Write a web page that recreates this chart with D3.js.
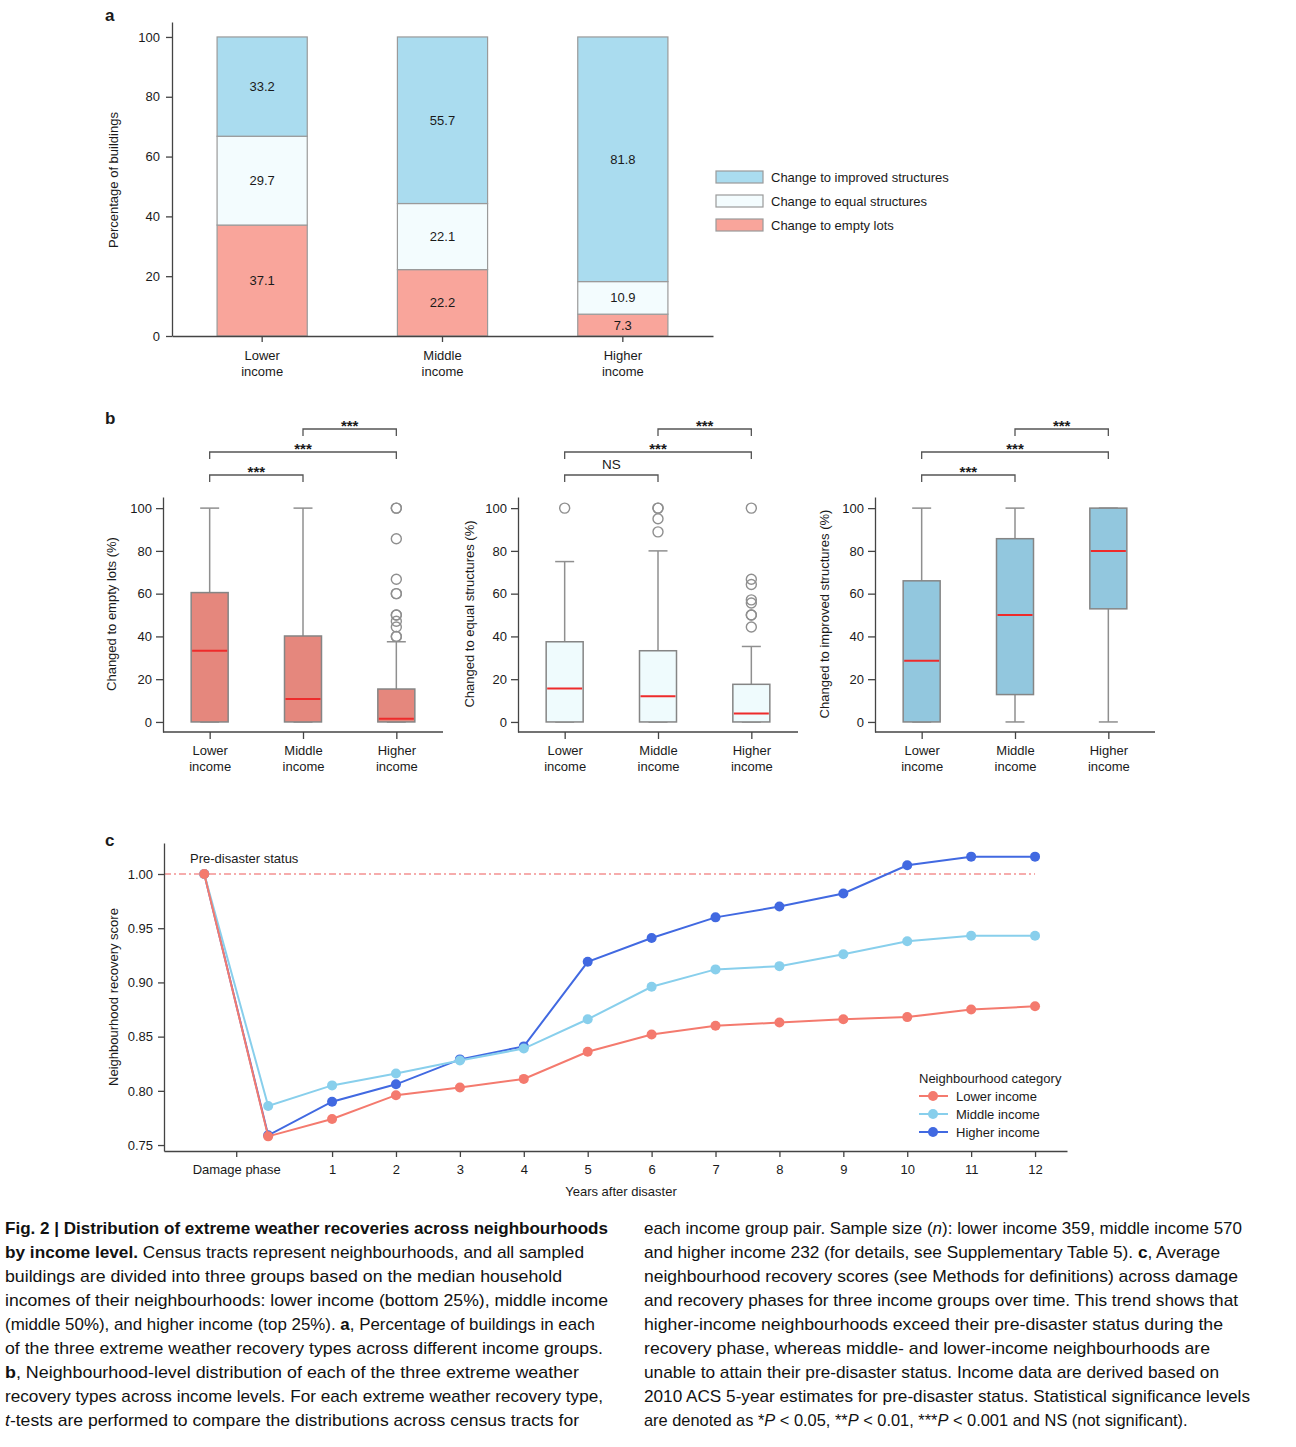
<!DOCTYPE html>
<html><head><meta charset="utf-8">
<script src="https://cdn.jsdelivr.net/npm/d3@7"></script>
<style>
body{margin:0;background:#fff}
svg{display:block}
text{font-family:"Liberation Sans",Arial,Helvetica,sans-serif;fill:#1a1a1a}
.axis path,.axis line{stroke:#444;stroke-width:1.3}
.axis text{font-size:13px;fill:#1a1a1a;font-family:"Liberation Sans",Arial,sans-serif}
.cap{font-family:"Liberation Sans",Arial,sans-serif;font-size:17px;fill:#111}
</style>
</head><body>
<svg id="chart" width="1296" height="1447"></svg>
<script>
// ---------- Panel a data ----------
const incomeGroups = ["Lower income", "Middle income", "Higher income"];
const recoveryTypes = ["Change to empty lots", "Change to equal structures", "Change to improved structures"];
const emptyLotsPct = [37.1, 22.2, 7.3];
const equalStructuresPct = [29.7, 22.1, 10.9];
const improvedStructuresPct = [33.2, 55.7, 81.8];
const percentTicks = [0, 20, 40, 60, 80, 100];

// ---------- Panel b data: [lower whisker, q1, median, q3, upper whisker] ----------
const emptyLotsBox = [[0, 0, 33.3, 60.5, 100], [0, 0, 10.7, 40.2, 100], [0, 0, 1.5, 15.4, 37.5]];
const emptyLotsFliers = [[], [], [100, 100, 85.7, 66.7, 60, 60, 50, 50, 47.1, 44.4, 40, 40]];
const equalBox = [[0, 0, 15.6, 37.5, 75], [0, 0, 12, 33.3, 80], [0, 0, 4, 17.6, 35.3]];
const equalFliers = [[100], [100, 100, 95, 88.9], [100, 66.7, 64.3, 57.1, 55.6, 50, 50, 44.4]];
const improvedBox = [[0, 0, 28.6, 66, 100], [0, 12.8, 50, 85.7, 100], [0, 52.9, 80, 100, 100]];
const improvedFliers = [[], [], []];
// significance for pairs Lower–Middle, Lower–Higher, Middle–Higher
const emptyLotsSig = ["***", "***", "***"];
const equalSig = ["NS", "***", "***"];
const improvedSig = ["***", "***", "***"];
const boxYLabels = ["Changed to empty lots (%)", "Changed to equal structures (%)", "Changed to improved structures (%)"];

// ---------- Panel c data ----------
const phases = [-1, 0, 1, 2, 3, 4, 5, 6, 7, 8, 9, 10, 11, 12];
const lowerScore  = [1.000, 0.758, 0.774, 0.796, 0.803, 0.811, 0.836, 0.852, 0.860, 0.863, 0.866, 0.868, 0.875, 0.878];
const middleScore = [1.000, 0.786, 0.805, 0.816, 0.828, 0.839, 0.866, 0.896, 0.912, 0.915, 0.926, 0.938, 0.943, 0.943];
const higherScore = [1.000, 0.759, 0.790, 0.806, 0.829, 0.841, 0.919, 0.941, 0.960, 0.970, 0.982, 1.008, 1.016, 1.016];
const scoreTicks = [0.75, 0.80, 0.85, 0.90, 0.95, 1.00];
const phaseTicks = [-0.5, 1, 2, 3, 4, 5, 6, 7, 8, 9, 10, 11, 12];
const phaseTickLabels = ["Damage phase", "1", "2", "3", "4", "5", "6", "7", "8", "9", "10", "11", "12"];
const seriesNames = ["Lower income", "Middle income", "Higher income"];

// ---------- Caption ----------
const captionLeft = [
  [["Fig. 2 | Distribution of extreme weather recoveries across neighbourhoods", "b"]],
  [["by income level.", "b"], [" Census tracts represent neighbourhoods, and all sampled", ""]],
  [["buildings are divided into three groups based on the median household", ""]],
  [["incomes of their neighbourhoods: lower income (bottom 25%), middle income", ""]],
  [["(middle 50%), and higher income (top 25%). ", ""], ["a", "b"], [", Percentage of buildings in each", ""]],
  [["of the three extreme weather recovery types across different income groups.", ""]],
  [["b", "b"], [", Neighbourhood-level distribution of each of the three extreme weather", ""]],
  [["recovery types across income levels. For each extreme weather recovery type,", ""]],
  [["t", "i"], ["-tests are performed to compare the distributions across census tracts for", ""]]
];
const captionLeftEnds = [608, 584, 562, 608, 595, 603, 579, 603, 579];
const captionRight = [
  [["each income group pair. Sample size (", ""], ["n", "i"], ["): lower income 359, middle income 570", ""]],
  [["and higher income 232 (for details, see Supplementary Table 5). ", ""], ["c", "b"], [", Average", ""]],
  [["neighbourhood recovery scores (see Methods for definitions) across damage", ""]],
  [["and recovery phases for three income groups over time. This trend shows that", ""]],
  [["higher-income neighbourhoods exceed their pre-disaster status during the", ""]],
  [["recovery phase, whereas middle- and lower-income neighbourhoods are", ""]],
  [["unable to attain their pre-disaster status. Income data are derived based on", ""]],
  [["2010 ACS 5-year estimates for pre-disaster status. Statistical significance levels", ""]],
  [["are denoted as *", ""], ["P", "i"], [" < 0.05, **", ""], ["P", "i"], [" < 0.01, ***", ""], ["P", "i"], [" < 0.001 and NS (not significant).", ""]]
];
const captionRightEnds = [1242, 1220, 1238, 1238, 1223, 1210, 1219, 1250, null];

const svg = d3.select("#chart");

function twoLine(sel) {
  sel.each(function(d) {
    const t = d3.select(this); const parts = t.text().split(" ");
    t.text(null);
    t.append("tspan").attr("x", 0).attr("dy", "0.8em").text(parts[0]);
    t.append("tspan").attr("x", 0).attr("dy", "1.23em").text(parts.slice(1).join(" "));
  });
}

// ================= Panel a =================
(function() {
  const g = svg.append("g");
  const x = d3.scaleBand().domain(incomeGroups).range([172, 713]).paddingInner(0.5).paddingOuter(0.25);
  const y = d3.scaleLinear().domain([0, 105]).range([336, 22]);
  const colors = {"Change to empty lots": "#f9a59b", "Change to equal structures": "#f3fcfe", "Change to improved structures": "#aadcef"};
  const rows = incomeGroups.map((c, i) => ({group: c, "Change to empty lots": emptyLotsPct[i], "Change to equal structures": equalStructuresPct[i], "Change to improved structures": improvedStructuresPct[i]}));
  const stack = d3.stack().keys(recoveryTypes)(rows);
  stack.forEach(layer => {
    g.selectAll(null).data(layer).enter().append("rect")
      .attr("x", d => x(d.data.group)).attr("width", x.bandwidth())
      .attr("y", d => y(d[1])).attr("height", d => y(d[0]) - y(d[1]))
      .attr("fill", colors[layer.key]).attr("stroke", "#9a9a9a").attr("stroke-width", 1.2);
    g.selectAll(null).data(layer).enter().append("text")
      .attr("x", d => x(d.data.group) + x.bandwidth() / 2).attr("y", d => y((d[0] + d[1]) / 2))
      .attr("text-anchor", "middle").attr("dy", "0.35em").attr("font-size", 13)
      .text(d => d.data[layer.key].toFixed(1));
  });
  g.append("g").attr("class", "axis").attr("transform", "translate(172,0)")
    .call(d3.axisLeft(y).tickValues(percentTicks).tickSize(6).tickSizeOuter(0).tickPadding(6));
  const xa = g.append("g").attr("class", "axis").attr("transform", "translate(0,336)")
    .call(d3.axisBottom(x).tickSize(6).tickSizeOuter(0).tickPadding(8));
  xa.selectAll(".tick text").call(twoLine);
  g.append("text").attr("transform", "translate(113,180) rotate(-90)").attr("text-anchor", "middle")
    .attr("dy", "0.35em").attr("font-size", 13).text("Percentage of buildings");
  g.append("text").attr("x", 105).attr("y", 21).attr("font-size", 17).attr("font-weight", "bold").text("a");
  // legend
  const leg = g.append("g");
  const legOrder = ["Change to improved structures", "Change to equal structures", "Change to empty lots"];
  const legY = d3.scalePoint().domain(legOrder).range([177, 225]);
  leg.selectAll("rect").data(legOrder).enter().append("rect")
    .attr("x", 716).attr("width", 47).attr("y", d => legY(d) - 6).attr("height", 12)
    .attr("fill", d => colors[d]).attr("stroke", "#9a9a9a").attr("stroke-width", 1.2);
  leg.selectAll("text").data(legOrder).enter().append("text")
    .attr("x", 771).attr("y", d => legY(d)).attr("dy", "0.35em").attr("font-size", 13).text(d => d);
})();

// ================= Panel b =================
function drawBoxPanel(x0, stats, fliers, sig, fill, label, labelX) {
  const g = svg.append("g");
  const x = d3.scalePoint().domain(incomeGroups).range([x0, x0 + 280]).padding(0.5);
  const y = d3.scaleLinear().domain([-4.7, 105.2]).range([732, 497]);
  const bw = 37, cw = 19;
  incomeGroups.forEach((grp, i) => {
    const [lo, q1, med, q3, hi] = stats[i];
    const cx = x(grp);
    const ln = (x1, y1, x2, y2, col, w) => g.append("line").attr("x1", x1).attr("y1", y1).attr("x2", x2).attr("y2", y2)
      .attr("stroke", col).attr("stroke-width", w);
    ln(cx, y(q3), cx, y(hi), "#8f8f8f", 1.5);
    ln(cx, y(q1), cx, y(lo), "#8f8f8f", 1.5);
    ln(cx - cw / 2, y(hi), cx + cw / 2, y(hi), "#8f8f8f", 1.5);
    ln(cx - cw / 2, y(lo), cx + cw / 2, y(lo), "#8f8f8f", 1.5);
    g.append("rect").attr("x", cx - bw / 2).attr("width", bw).attr("y", y(q3)).attr("height", Math.max(0, y(q1) - y(q3)))
      .attr("fill", fill).attr("stroke", "#858585").attr("stroke-width", 1.5);
    ln(cx - bw / 2 + 1, y(med), cx + bw / 2 - 1, y(med), "#ee2b2b", 2);
    g.selectAll(null).data(fliers[i]).enter().append("circle")
      .attr("cx", cx).attr("cy", d => y(d)).attr("r", 5)
      .attr("fill", "none").attr("stroke", "#8f8f8f").attr("stroke-width", 1.4);
  });
  g.append("g").attr("class", "axis").attr("transform", `translate(${x0},0)`)
    .call(d3.axisLeft(y).tickValues(percentTicks).tickSize(7).tickSizeOuter(0).tickPadding(4));
  const xa = g.append("g").attr("class", "axis").attr("transform", "translate(0,732)")
    .call(d3.axisBottom(x).tickSize(7).tickSizeOuter(0).tickPadding(6));
  xa.select(".domain").attr("d", `M${x0},0H${x0 + 280}`);
  xa.selectAll(".tick text").call(twoLine);
  g.append("text").attr("transform", `translate(${labelX},614) rotate(-90)`).attr("text-anchor", "middle")
    .attr("dy", "0.35em").attr("font-size", 13).text(label);
  // significance brackets
  const pairs = [[0, 1, 475], [0, 2, 452], [1, 2, 429]];
  pairs.forEach(([a, b, by], k) => {
    const xa1 = x(incomeGroups[a]), xb1 = x(incomeGroups[b]);
    g.append("path").attr("d", `M${xa1},${by + 7}V${by}H${xb1}V${by + 7}`)
      .attr("fill", "none").attr("stroke", "#555").attr("stroke-width", 1.3);
    const isNS = sig[k] === "NS";
    g.append("text").attr("x", (xa1 + xb1) / 2).attr("y", isNS ? by - 6 : by + 2)
      .attr("text-anchor", "middle").attr("font-size", isNS ? 13.5 : 15)
      .attr("font-weight", isNS ? "normal" : "bold").text(sig[k]);
  });
}
drawBoxPanel(163, emptyLotsBox, emptyLotsFliers, emptyLotsSig, "#e5877d", boxYLabels[0], 111);
drawBoxPanel(518, equalBox, equalFliers, equalSig, "#effbfd", boxYLabels[1], 469);
drawBoxPanel(875, improvedBox, improvedFliers, improvedSig, "#92c7de", boxYLabels[2], 824);
svg.append("text").attr("x", 105).attr("y", 424).attr("font-size", 17).attr("font-weight", "bold").text("b");

// ================= Panel c =================
(function() {
  const g = svg.append("g");
  const x = d3.scaleLinear().domain([-1.63, 12.5]).range([164, 1067]);
  const y = d3.scaleLinear().domain([0.7445, 1.0286]).range([1151, 843]);
  const colors = ["#f47a6e", "#88cfec", "#4169e1"];
  const series = [lowerScore, middleScore, higherScore];
  g.append("line").attr("x1", x(-1.63)).attr("x2", x(12)).attr("y1", y(1)).attr("y2", y(1))
    .attr("stroke", "#ee5a5a").attr("stroke-width", 1.1).attr("stroke-dasharray", "7,3,2,3");
  g.append("text").attr("x", 190).attr("y", 858).attr("dy", "0.35em").attr("font-size", 13).text("Pre-disaster status");
  const line = d3.line().x((d, i) => x(phases[i])).y(d => y(d));
  [2, 1, 0].forEach(s => {
    g.append("path").datum(series[s]).attr("d", line).attr("fill", "none").attr("stroke", colors[s]).attr("stroke-width", 2);
    g.selectAll(null).data(series[s]).enter().append("circle")
      .attr("cx", (d, i) => x(phases[i])).attr("cy", d => y(d)).attr("r", 5).attr("fill", colors[s]);
  });
  g.append("g").attr("class", "axis").attr("transform", "translate(164,0)")
    .call(d3.axisLeft(y).tickValues(scoreTicks).tickFormat(d3.format(".2f")).tickSize(6).tickSizeOuter(0).tickPadding(5));
  g.append("g").attr("class", "axis").attr("transform", "translate(0,1151)")
    .call(d3.axisBottom(x).tickValues(phaseTicks).tickFormat((d, i) => phaseTickLabels[i]).tickSize(6).tickSizeOuter(0).tickPadding(8));
  g.append("text").attr("x", 621).attr("y", 1191).attr("dy", "0.35em").attr("text-anchor", "middle").attr("font-size", 13).text("Years after disaster");
  g.append("text").attr("transform", "translate(113,997) rotate(-90)").attr("text-anchor", "middle")
    .attr("dy", "0.35em").attr("font-size", 13).text("Neighbourhood recovery score");
  g.append("text").attr("x", 105).attr("y", 846).attr("font-size", 17).attr("font-weight", "bold").text("c");
  g.append("text").attr("x", 919).attr("y", 1078).attr("dy", "0.35em").attr("font-size", 13).text("Neighbourhood category");
  const ly = d3.scalePoint().domain(seriesNames).range([1096, 1132]);
  seriesNames.forEach((nm, i) => {
    g.append("line").attr("x1", 919).attr("x2", 948).attr("y1", ly(nm)).attr("y2", ly(nm)).attr("stroke", colors[i]).attr("stroke-width", 2);
    g.append("circle").attr("cx", 933).attr("cy", ly(nm)).attr("r", 5).attr("fill", colors[i]);
    g.append("text").attr("x", 956).attr("y", ly(nm)).attr("dy", "0.35em").attr("font-size", 13).text(nm);
  });
})();

// ================= Caption =================
function caption(lines, ends, x0) {
  lines.forEach((segs, i) => {
    const t = svg.append("text").attr("class", "cap").attr("x", x0).attr("y", 1234 + 24 * i);
    if (ends[i]) t.attr("textLength", ends[i] - x0).attr("lengthAdjust", "spacingAndGlyphs");
    else t.style("font-size", "16.4px");
    segs.forEach(([s, st]) => {
      const sp = t.append("tspan").text(s);
      if (st === "b") sp.attr("font-weight", "bold");
      if (st === "i") sp.attr("font-style", "italic");
    });
  });
}
caption(captionLeft, captionLeftEnds, 5);
caption(captionRight, captionRightEnds, 644);
</script>
</body></html>
